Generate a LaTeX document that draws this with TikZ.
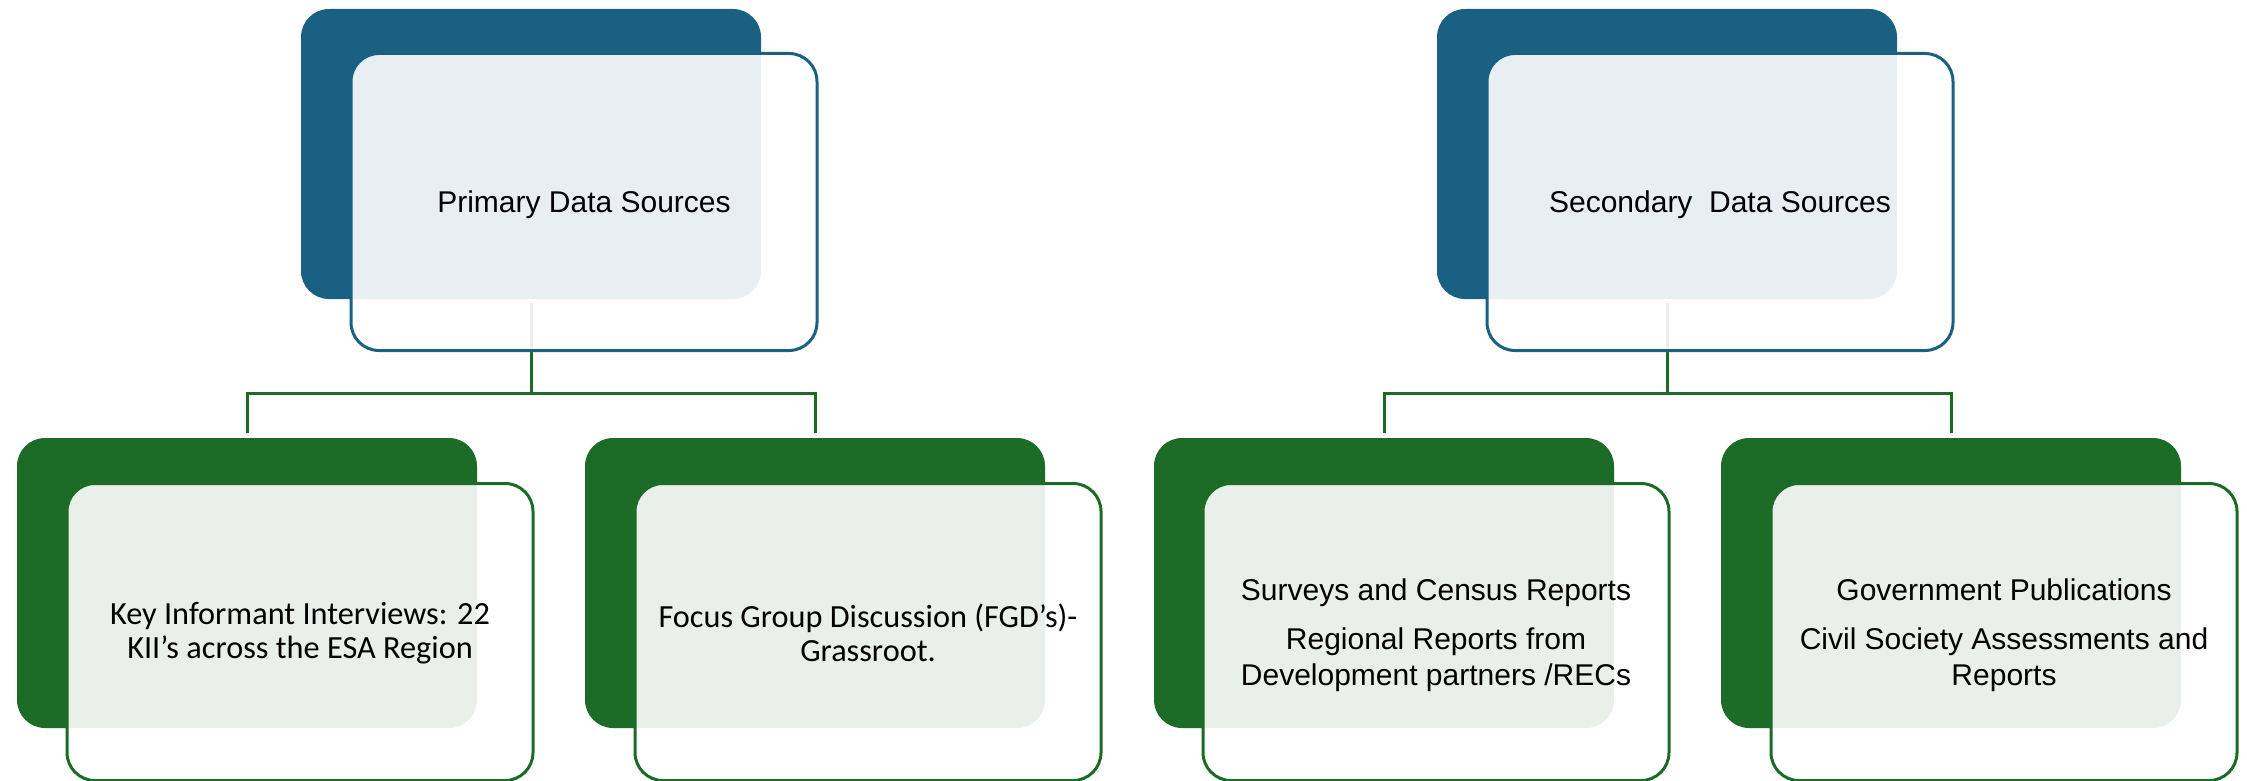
\documentclass[tikz,border=0pt]{standalone}
\usepackage{fontspec}
\setmainfont{Liberation Sans}
\newfontfamily\calibrifont{Carlito}
\definecolor{darkblue}{HTML}{1A6082}
\definecolor{darkgreen}{HTML}{1C6B27}
\begin{document}
\begin{tikzpicture}[x=1pt,y=-1pt,
  back/.style={rounded corners=28pt, minimum width=460pt, minimum height=290pt, inner sep=0pt},
  blueback/.style={back, fill=darkblue},
  greenback/.style={back, fill=darkgreen},
  card/.style={rounded corners=28pt, minimum width=466pt, minimum height=297pt, inner sep=0pt,
    fill=white, fill opacity=0.9, line width=3pt},
  bluecard/.style={card, draw=darkblue},
  greencard/.style={card, draw=darkgreen},
  cardtext/.style={inner sep=0pt, align=center, font=\fontsize{30}{36}\selectfont},
  caltext/.style={cardtext, font=\calibrifont\fontsize{32.3}{33.5}\selectfont},
  conn/.style={draw=darkgreen, line width=3pt}]
\fill[white] (0,0) rectangle (2247,781);
\useasboundingbox (0,0) rectangle (2247,781);

% solid back panels
\node[blueback]  (p1b) at (531,154) {};
\node[blueback]  (p2b) at (1667,154) {};
\node[greenback] (c1b) at (247,583) {};
\node[greenback] (c2b) at (815,583) {};
\node[greenback] (c3b) at (1384,583) {};
\node[greenback] (c4b) at (1951,583) {};

% tree connectors
\coordinate (j1) at (531,393);
\coordinate (j2) at (1667,393);
\draw[conn] ([yshift=-4pt]p1b.south) -- (j1);
\draw[conn] ([yshift=5pt]c1b.north) |- (j1) -| ([yshift=5pt]c2b.north);
\draw[conn] ([yshift=-4pt]p2b.south) -- (j2);
\draw[conn] ([yshift=5pt]c3b.north) |- (j2) -| ([yshift=5pt]c4b.north);

% translucent cards
\node[bluecard]  (p1) at (584,202) {};
\node[bluecard]  (p2) at (1720,202) {};
\node[greencard] (c1) at (300,632) {};
\node[greencard] (c2) at (868,632) {};
\node[greencard] (c3) at (1436,632) {};
\node[greencard] (c4) at (2004,632) {};

% card texts
\node[cardtext] (t1) at ([yshift=-3pt]p1.center) {Primary Data Sources};
\node[cardtext] (t2) at ([yshift=-3pt]p2.center) {Secondary\ \ Data Sources};
\node[caltext]  (t3) at ([yshift=-1pt]c1.center) {Key Informant Interviews: 22\\KII’s across the ESA Region};
\node[caltext]  (t4) at ([yshift=-1pt]c2.center) {Focus Group Discussion (FGD’s)-\\Grassroot.};
\node[cardtext] (t5) at ([yshift=-3pt]c3.center) {Surveys and Census Reports\\[13pt]Regional Reports from\\Development partners /RECs};
\node[cardtext] (t6) at ([yshift=-3pt]c4.center) {Government Publications\\[13pt]Civil Society Assessments and\\Reports};
\end{tikzpicture}
\end{document}
